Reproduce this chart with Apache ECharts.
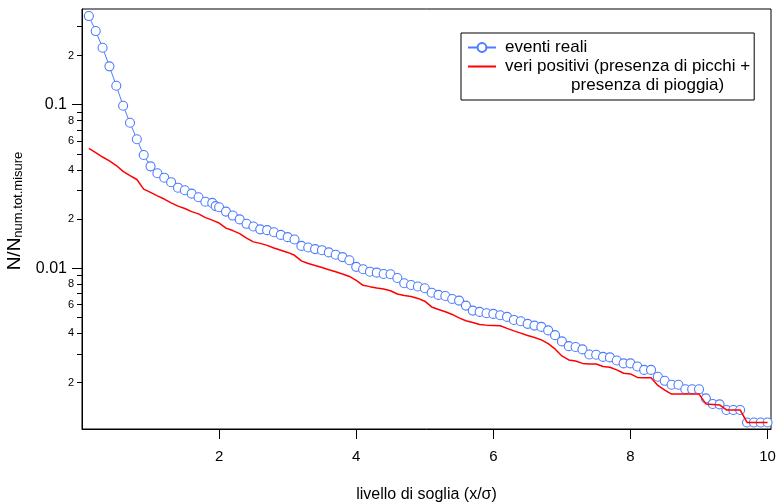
<!DOCTYPE html>
<html>
<head>
<meta charset="utf-8">
<script src="https://cdn.jsdelivr.net/npm/echarts@6/dist/echarts.min.js"></script>
<style>
  html, body { margin: 0; padding: 0; background: #fff; }
  #chart { width: 777px; height: 504px; }
</style>
</head>
<body>
<div id="chart"></div>
<script>
// threshold levels (x / sigma)
const soglia = [0.1,0.2,0.3,0.4,0.5,0.6,0.7,0.8,0.9,1.0,
  1.1,1.2,1.3,1.4,1.5,1.6,1.7,1.8,1.9,1.95,2.0,
  2.1,2.2,2.3,2.4,2.5,2.6,2.7,2.8,2.9,3.0,
  3.1,3.2,3.3,3.4,3.5,3.6,3.7,3.8,3.9,4.0,
  4.1,4.2,4.3,4.4,4.5,4.6,4.7,4.8,4.9,5.0,
  5.1,5.2,5.3,5.4,5.5,5.6,5.7,5.8,5.9,6.0,
  6.1,6.2,6.3,6.4,6.5,6.6,6.7,6.8,6.9,7.0,
  7.1,7.2,7.3,7.4,7.5,7.6,7.7,7.8,7.9,8.0,
  8.1,8.2,8.3,8.4,8.5,8.6,8.7,8.8,8.9,9.0,
  9.1,9.2,9.3,9.4,9.5,9.6,9.7,9.8,9.9,10.0];

const eventiReali = [0.3485,0.2822,0.2231,0.1717,0.1307,0.0986,0.0776,0.0615,0.0493,0.0420,
  0.0381,0.0358,0.0336,0.0311,0.0300,0.0286,0.0272,0.0255,0.0251,0.0240,0.0236,
  0.0222,0.0210,0.0199,0.0187,0.0180,0.0173,0.0171,0.0166,0.0160,0.0155,
  0.0150,0.0137,0.0134,0.0131,0.0129,0.0125,0.0121,0.0117,0.0112,0.0102,
  0.00986,0.00953,0.00940,0.00923,0.00919,0.00872,0.00810,0.00790,0.00774,0.00755,
  0.00709,0.00687,0.00677,0.00649,0.00634,0.00591,0.00551,0.00541,0.00531,0.00526,
  0.00516,0.00504,0.00483,0.00474,0.00457,0.00446,0.00438,0.00417,0.00390,0.00357,
  0.00334,0.00330,0.00319,0.00297,0.00296,0.00287,0.00285,0.00273,0.00262,0.00262,
  0.00251,0.00239,0.00239,0.00217,0.00205,0.00194,0.00194,0.00182,0.00182,0.00182,
  0.00160,0.00148,0.00147,0.00136,0.00136,0.00136,0.00114,0.00114,0.00114,0.00114];

const veriPositivi = [0.0541,0.0510,0.0479,0.0453,0.0425,0.0391,0.0369,0.0349,0.0305,0.0291,
  0.0277,0.0265,0.0251,0.0240,0.0232,0.0222,0.0215,0.0204,0.0197,0.0193,0.0189,
  0.0176,0.0170,0.0163,0.0153,0.0145,0.0142,0.0138,0.0133,0.0129,0.0125,
  0.0120,0.0111,0.0107,0.0104,0.0101,0.00980,0.00952,0.00923,0.00891,0.00842,
  0.00787,0.00772,0.00758,0.00747,0.00729,0.00696,0.00682,0.00672,0.00654,0.00629,
  0.00580,0.00560,0.00542,0.00522,0.00497,0.00478,0.00466,0.00453,0.00449,0.00447,
  0.00445,0.00429,0.00414,0.00401,0.00388,0.00377,0.00365,0.00346,0.00321,0.00291,
  0.00275,0.00271,0.00262,0.00260,0.00260,0.00251,0.00248,0.00239,0.00228,0.00226,
  0.00215,0.00214,0.00214,0.00192,0.00180,0.00170,0.00170,0.00170,0.00170,0.00170,
  0.00148,0.00147,0.00146,0.00136,0.00136,0.00136,0.00114,0.00114,0.00114,0.00114];

const seriesNames = ['eventi reali', 'veri positivi (presenza di picchi + presenza di pioggia)'];
const legendLines = {
  'eventi reali': 'eventi reali',
  'veri positivi (presenza di picchi + presenza di pioggia)':
    ' \nveri positivi (presenza di picchi +\n              presenza di pioggia)'
};
const xTicks = [2, 4, 6, 8, 10];
const yMajorTicks = [0.01, 0.1];
const yMinorTicks = [0.002,0.003,0.004,0.005,0.006,0.007,0.008,0.009,
                     0.02,0.03,0.04,0.05,0.06,0.07,0.08,0.09,0.2,0.3];
const yMinorLabels = [0.002,0.004,0.006,0.008,0.02,0.04,0.06,0.08,0.2];
const xTitle = 'livello di soglia (x/σ)';
const yTitleMain = 'N/N';
const yTitleSub = 'num.tot.misure';

const FONT = 'Liberation Sans, Arial, sans-serif';
const BLUE = '#4d7cfe';
const RED = '#ff0000';

const yMin = 0.00104, yMax = 0.385;

const chart = echarts.init(document.getElementById('chart'), null, {renderer: 'canvas'});
chart.setOption({
  animation: false,
  backgroundColor: '#fff',
  textStyle: { fontFamily: FONT, color: '#000' },
  grid: {
    left: 82, right: 6, top: 9, bottom: 75,
    outerBoundsMode: 'none',
    containLabel: false,
    show: true, borderColor: '#000', borderWidth: 1, backgroundColor: 'transparent'
  },
  legend: {
    orient: 'vertical',
    left: 461, top: 33,
    padding: [5, 4, 5, 6],
    itemGap: -19,
    itemWidth: 28,
    itemHeight: 11,
    borderColor: '#000',
    borderWidth: 1,
    backgroundColor: '#fff',
    selectedMode: false,
    textStyle: { fontFamily: FONT, fontSize: 17, lineHeight: 19, color: '#000', padding: [0, 0, 0, 4] },
    formatter: function (name) { return legendLines[name]; },
    data: [
      { name: seriesNames[0] },
      { name: seriesNames[1], itemStyle: { color: 'rgba(0,0,0,0)', borderWidth: 0, opacity: 0 } }
    ]
  },
  xAxis: {
    type: 'value',
    min: 0, max: 10.05,
    name: xTitle,
    nameLocation: 'middle',
    nameGap: 58,
    nameTextStyle: { fontFamily: FONT, fontSize: 16, color: '#000' },
    axisLine: { show: true, onZero: false, lineStyle: { color: '#000', width: 1 } },
    axisTick: { show: true, customValues: xTicks, length: 10, lineStyle: { color: '#000', width: 1 } },
    axisLabel: { customValues: xTicks, margin: 20, fontSize: 15, color: '#000', fontFamily: FONT },
    splitLine: { show: false }
  },
  yAxis: [
    {
      type: 'log', logBase: 10, min: yMin, max: yMax,
      position: 'left',
      name: '{a|' + yTitleMain + '}{b|' + yTitleSub + '}',
      nameLocation: 'middle',
      nameRotate: 90,
      nameGap: 51,
      nameTextStyle: {
        rich: {
          a: { fontFamily: FONT, fontSize: 19, color: '#000', padding: [0, 0, 0, 16] },
          b: { fontFamily: FONT, fontSize: 13, color: '#000', padding: [8, 0, 0, 0] }
        }
      },
      axisLine: { show: true, onZero: false, lineStyle: { color: '#000', width: 1 } },
      axisTick: { show: true, customValues: yMajorTicks, length: 10, lineStyle: { color: '#000', width: 1 } },
      axisLabel: { customValues: yMajorTicks, margin: 15, fontSize: 16, color: '#000', fontFamily: FONT,
        formatter: function (v) { return v >= 0.05 ? '0.1' : '0.01'; } },
      splitLine: { show: false }
    },
    {
      type: 'log', logBase: 10, min: yMin, max: yMax,
      position: 'left',
      axisLine: { show: false },
      axisTick: { show: true, customValues: yMinorTicks, length: 5, lineStyle: { color: '#000', width: 1 } },
      axisLabel: { customValues: yMinorLabels, margin: 8, fontSize: 11, color: '#000', fontFamily: FONT,
        formatter: function (v) {
          const e = Math.floor(Math.log10(v) + 1e-9);
          return String(Math.round(v / Math.pow(10, e)));
        } },
      splitLine: { show: false }
    }
  ],
  series: [
    {
      name: seriesNames[0],
      type: 'line',
      yAxisIndex: 0,
      data: soglia.map((x, i) => [x, eventiReali[i]]),
      symbol: 'circle',
      symbolSize: 9,
      showSymbol: true,
      lineStyle: { color: BLUE, width: 1 },
      itemStyle: { color: '#ffffff', borderColor: BLUE, borderWidth: 1.1 },
      emphasis: { disabled: true },
      z: 2
    },
    {
      name: seriesNames[1],
      type: 'line',
      yAxisIndex: 0,
      data: soglia.map((x, i) => [x, veriPositivi[i]]),
      symbol: 'none',
      showSymbol: false,
      lineStyle: { color: RED, width: 1.5 },
      itemStyle: { color: RED },
      emphasis: { disabled: true },
      z: 3
    }
  ]
});
</script>
</body>
</html>
